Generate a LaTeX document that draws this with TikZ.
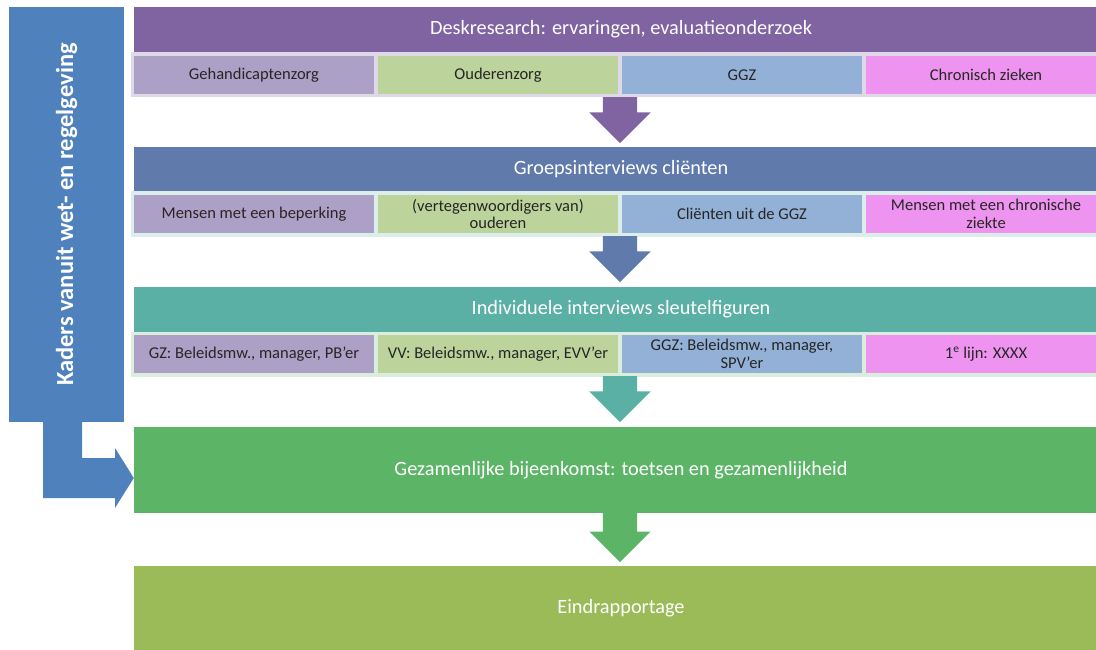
\documentclass[tikz,border=0pt]{standalone}
\usepackage{fontspec}
\setmainfont{Carlito}
\usetikzlibrary{shapes.arrows}

\definecolor{kaderblauw}{HTML}{4F81BD}
\definecolor{deskpaars}{HTML}{8064A2}
\definecolor{groepblauw}{HTML}{5F7AAB}
\definecolor{indivteal}{HTML}{5BB0A5}
\definecolor{bijeengroen}{HTML}{5CB466}
\definecolor{eindgroen}{HTML}{9BBB59}
\definecolor{subpaars}{HTML}{ADA0C6}
\definecolor{subgroen}{HTML}{BCD39C}
\definecolor{subblauw}{HTML}{93B1D6}
\definecolor{subroze}{HTML}{EE93EF}
\definecolor{tekstdonker}{HTML}{262626}

\begin{document}
\begin{tikzpicture}[x=1pt,y=-1pt,
kop/.style={fill=#1,text=white,minimum width=974pt,minimum height=45pt,inner sep=0pt,font=\fontsize{20.3}{24}\selectfont},
rij/.style={fill=#1,minimum width=980pt,minimum height=45pt,inner sep=0pt},
sub/.style={fill=#1,text=tekstdonker,minimum width=240pt,minimum height=38pt,inner sep=0pt,align=center,font=\fontsize{16.5}{17.5}\selectfont},
blok/.style={fill=#1,text=white,minimum width=974pt,inner sep=0pt,font=\fontsize{20.3}{24}\selectfont},
pijl/.style={single arrow,fill=#1,rotate=-90,anchor=tail,inner xsep=0pt,inner ysep=17pt,minimum height=46pt,single arrow head extend=13.5pt,single arrow tip angle=90}
]
\useasboundingbox (0,0) rectangle (1096,650);
\clip (0,0) rectangle (1096,650);

% deskresearch
\node[kop=deskpaars] (desk) at (621,29.5) {Deskresearch: ervaringen, evaluatieonderzoek};
\node[rij=deskpaars!25] (deskrij) at (621,74.5) {};
\node[sub=subpaars] (desk1) at (254,75) {Gehandicaptenzorg};
\node[sub=subgroen] (desk2) at (498,75) {Ouderenzorg};
\node[sub=subblauw] (desk3) at (742,75) {GGZ};
\node[sub=subroze] (desk4) at (986,75) {Chronisch zieken};

\node[pijl=deskpaars] (pijl1) at (620,97) {};

% groepsinterviews
\node[kop=groepblauw] (groep) at (621,169.5) {Groepsinterviews cliënten};
\node[rij=indivteal!22] (groeprij) at (621,214) {};
\node[sub=subpaars] (groep1) at (254,214) {Mensen met een beperking};
\node[sub=subgroen] (groep2) at (498,214) {(vertegenwoordigers van)\\ouderen};
\node[sub=subblauw] (groep3) at (742,214) {Cliënten uit de GGZ};
\node[sub=subroze] (groep4) at (986,214) {Mensen met een chronische\\ziekte};

\node[pijl=groepblauw] (pijl2) at (620,236) {};

% individuele interviews
\node[kop=indivteal] (indiv) at (621,309.5) {Individuele interviews sleutelfiguren};
\node[rij=bijeengroen!22] (indivrij) at (621,354) {};
\node[sub=subpaars] (indiv1) at (254,354) {GZ: Beleidsmw., manager, PB’er};
\node[sub=subgroen] (indiv2) at (498,354) {VV: Beleidsmw., manager, EVV’er};
\node[sub=subblauw] (indiv3) at (742,354) {GGZ: Beleidsmw., manager,\\SPV’er};
\node[sub=subroze] (indiv4) at (986,354) {1\textsuperscript{e} lijn: XXXX};

\node[pijl=indivteal] (pijl3) at (620,376) {};

% bijeenkomst en rapportage
\node[blok=bijeengroen,minimum height=86pt] (bijeen) at (621,470) {Gezamenlijke bijeenkomst: toetsen en gezamenlijkheid};
\node[pijl=bijeengroen,minimum height=49pt] (pijl4) at (620,513) {};
\node[blok=eindgroen,minimum height=84pt] (eind) at (621,608) {Eindrapportage};

% kaders
\node[fill=kaderblauw,minimum width=115pt,minimum height=415pt,inner sep=0pt] (kaders) at (66.5,214.5) {};
\node[rotate=90,text=white,font=\fontsize{24.5}{28}\selectfont\bfseries] (kaderstekst) at (kaders.center) {Kaders vanuit wet- en regelgeving};
\fill[kaderblauw] (43,421) -- (82,421) -- (82,458) -- (115,458) -- (115,448) -- (bijeen.west |- 0,478) -- (115,508) -- (115,498) -- (43,498) -- cycle;

\end{tikzpicture}
\end{document}
